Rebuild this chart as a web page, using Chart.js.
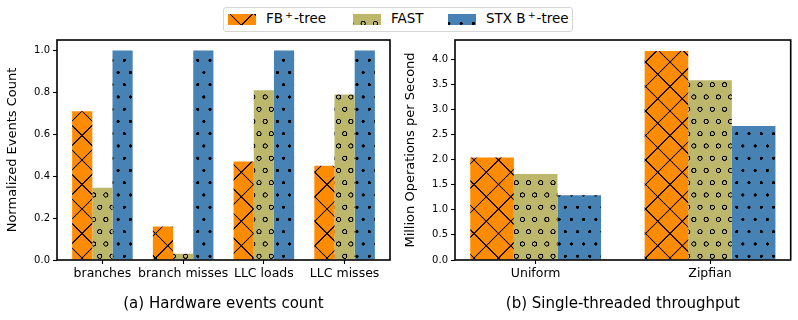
<!DOCTYPE html>
<html>
<head>
<meta charset="utf-8">
<script src="https://cdn.jsdelivr.net/npm/chart.js@4.4.0/dist/chart.umd.min.js"></script>
<style>
  body { margin: 0; background: #fff; font-family: "DejaVu Sans", sans-serif; }
  #wrap { position: relative; width: 798px; height: 320px; overflow: hidden; }
  #left { position: absolute; left: 0; top: 0; }
  #right { position: absolute; left: 400px; top: 0; }
  #legendBox { position: absolute; left: 223px; top: 7px; width: 350px; height: 25px;
               border: 1px solid #d6d6d6; border-radius: 3px; box-sizing: border-box; background: #fff; }
  .sw { position: absolute; top: 14px; }
  .lt { position: absolute; top: 11px; font-size: 13.5px; line-height: 1.164; color: #000; white-space: nowrap; }
  .lt sup { font-size: 9.5px; vertical-align: 5px; line-height: 0; margin: 0 1px 0 2px; }
</style>
</head>
<body>
<div id="wrap">
  <canvas id="left" width="400" height="320"></canvas>
  <canvas id="right" width="398" height="320"></canvas>
  <div id="legendBox"></div>
  <canvas class="sw" id="sw0" width="28" height="11" style="left:228px"></canvas>
  <span class="lt" style="left:266px">FB<sup>+</sup>-tree</span>
  <canvas class="sw" id="sw1" width="28" height="11" style="left:353px"></canvas>
  <span class="lt" style="left:391px">FAST</span>
  <canvas class="sw" id="sw2" width="28" height="11" style="left:448px"></canvas>
  <span class="lt" style="left:486px">STX B<sup>+</sup>-tree</span>
</div>
<script>
// ---- data ----
var seriesNames = ['FB+-tree', 'FAST', 'STX B+-tree'];

var hwEvents = ['branches', 'branch misses', 'LLC loads', 'LLC misses'];
var hwFbtree = [0.71, 0.16, 0.47, 0.45];
var hwFast = [0.345, 0.03, 0.81, 0.79];
var hwStx = [1.0, 1.0, 1.0, 1.0];
var hwTicks = [0, 0.2, 0.4, 0.6, 0.8, 1.0];

var workloads = ['Uniform', 'Zipfian'];
var tpFbtree = [2.04, 4.16];
var tpFast = [1.71, 3.58];
var tpStx = [1.29, 2.67];
var tpTicks = [0, 0.5, 1.0, 1.5, 2.0, 2.5, 3.0, 3.5, 4.0];

var ORANGE = '#ff8c00', KHAKI = '#bdb76b', BLUE = '#4682b4';

Chart.defaults.font.family = "'DejaVu Sans', sans-serif";
Chart.defaults.color = '#000';

// hatch tiles are drawn 4x bigger and scaled down, so the spacing need not be whole pixels
var K = 4;
function tile(w, h, draw) {
    var c = document.createElement('canvas');
    c.width = w; c.height = h;
    draw(c.getContext('2d'), w, h);
    return c;
}
var crossTile = tile(98, 98, function (g, w, h) {
    g.fillStyle = ORANGE; g.fillRect(0, 0, w, h);
    g.strokeStyle = '#000'; g.lineWidth = 4.4;
    g.beginPath();
    for (var i = -1; i <= 1; i++) {
        g.moveTo(i * w - 10, -10); g.lineTo(i * w + w + 10, h + 10);
        g.moveTo(i * w + w + 10, -10); g.lineTo(i * w - 10, h + 10);
    }
    g.stroke();
});
var ringTile = tile(49, 98, function (g, w, h) {
    g.fillStyle = KHAKI; g.fillRect(0, 0, w, h);
    g.strokeStyle = '#000'; g.lineWidth = 4.2;
    [[12.25, 24.5], [36.75, 73.5]].forEach(function (p) {
        g.beginPath(); g.arc(p[0], p[1], 8.4, 0, Math.PI * 2); g.stroke();
    });
});
var dotTile = tile(49, 98, function (g, w, h) {
    g.fillStyle = BLUE; g.fillRect(0, 0, w, h);
    g.fillStyle = '#000';
    [[12.25, 24.5], [36.75, 73.5]].forEach(function (p) {
        g.beginPath(); g.arc(p[0], p[1], 6.4, 0, Math.PI * 2); g.fill();
    });
});

// patterns are anchored to the page, so they run on across bars and both panels
function hatches(ctx, offX, offY) {
    function pat(t, px, py) {
        var p = ctx.createPattern(t, 'repeat');
        p.setTransform(new DOMMatrix([1 / K, 0, 0, 1 / K, px - offX, py - offY]));
        return p;
    }
    return [
        pat(crossTile, 670, 62),
        pat(ringTile, 700 - 3.06, 84.7 - 6.12),
        pat(dotTile, 700 - 3.06, 84.7 - 6.12)
    ];
}

var framePlugin = {
    id: 'frame',
    afterDraw: function (chart) {
        var a = chart.chartArea, c = chart.ctx;
        c.save();
        c.strokeStyle = '#000';
        c.lineWidth = 1.6;
        c.strokeRect(a.left, a.top, a.right - a.left, a.bottom - a.top);
        c.restore();
    }
};

function points(values) {
    return values.map(function (v, i) { return {x: i, y: v}; });
}

function buildChart(id, offX, o) {
    var ctx = document.getElementById(id).getContext('2d');
    var pats = hatches(ctx, offX, 0);
    var ds = o.series.map(function (vals, i) {
        return {
            label: seriesNames[i],
            data: points(vals),
            backgroundColor: pats[i],
            borderWidth: 0,
            categoryPercentage: 0.75,
            barPercentage: 1.0
        };
    });
    return new Chart(ctx, {
        type: 'bar',
        data: {datasets: ds},
        options: {
            responsive: false,
            animation: false,
            devicePixelRatio: 1,
            layout: {padding: {top: 40, right: o.padRight, left: 0, bottom: 0}},
            plugins: {legend: {display: false}, tooltip: {enabled: false}},
            scales: {
                x: {
                    type: 'linear',
                    min: o.xMin, max: o.xMax,
                    offset: false,
                    afterBuildTicks: function (s) {
                        s.ticks = o.cats.map(function (c, i) { return {value: i}; });
                    },
                    afterFit: function (s) { s.height = 60; },
                    ticks: {
                        callback: function (v) { return o.cats[v]; },
                        font: {size: 12.5}, color: '#000', padding: 2,
                        maxRotation: 0, autoSkip: false
                    },
                    grid: {display: true, drawOnChartArea: false, drawTicks: true, offset: false,
                           tickLength: 4, tickWidth: 1.1, tickColor: '#000'},
                    border: {display: false},
                    title: {display: true, text: o.caption, font: {size: 15}, color: '#000',
                            padding: {top: 0, bottom: 7}}
                },
                y: {
                    min: 0, max: o.yMax,
                    afterBuildTicks: function (s) {
                        s.ticks = o.yTicks.map(function (v) { return {value: v}; });
                    },
                    afterFit: function (s) { s.width = o.yWidth; },
                    ticks: {
                        callback: function (v) { return v.toFixed(1); },
                        font: {size: 10}, color: '#000', padding: 3
                    },
                    grid: {display: true, drawOnChartArea: false, drawTicks: true,
                           tickLength: 4, tickWidth: 1.1, tickColor: '#000'},
                    border: {display: false},
                    title: {display: true, text: o.yTitle, font: {size: 13}, color: '#000',
                            padding: {top: o.titlePad, bottom: 0}}
                }
            }
        },
        plugins: [framePlugin]
    });
}

buildChart('left', 0, {
    cats: hwEvents,
    series: [hwFbtree, hwFast, hwStx],
    xMin: -0.5625, xMax: 3.5625,
    yMax: 1.05, yTicks: hwTicks, yWidth: 57,
    padRight: 10, titlePad: 4.7,
    yTitle: 'Normalized Events Count',
    caption: '(a) Hardware events count'
});

buildChart('right', 400, {
    cats: workloads,
    series: [tpFbtree, tpFast, tpStx],
    xMin: -0.4625, xMax: 1.4625,
    yMax: 4.38, yTicks: tpTicks, yWidth: 55,
    padRight: 7.3, titlePad: 2.7,
    yTitle: 'Million Operations per Second',
    caption: '(b) Single-threaded throughput'
});

// legend swatches share the page-anchored hatches
[228, 353, 448].forEach(function (left, i) {
    var g = document.getElementById('sw' + i).getContext('2d');
    g.fillStyle = hatches(g, left, 14)[i];
    g.fillRect(0, 0, 28, 11);
});
</script>
</body>
</html>
